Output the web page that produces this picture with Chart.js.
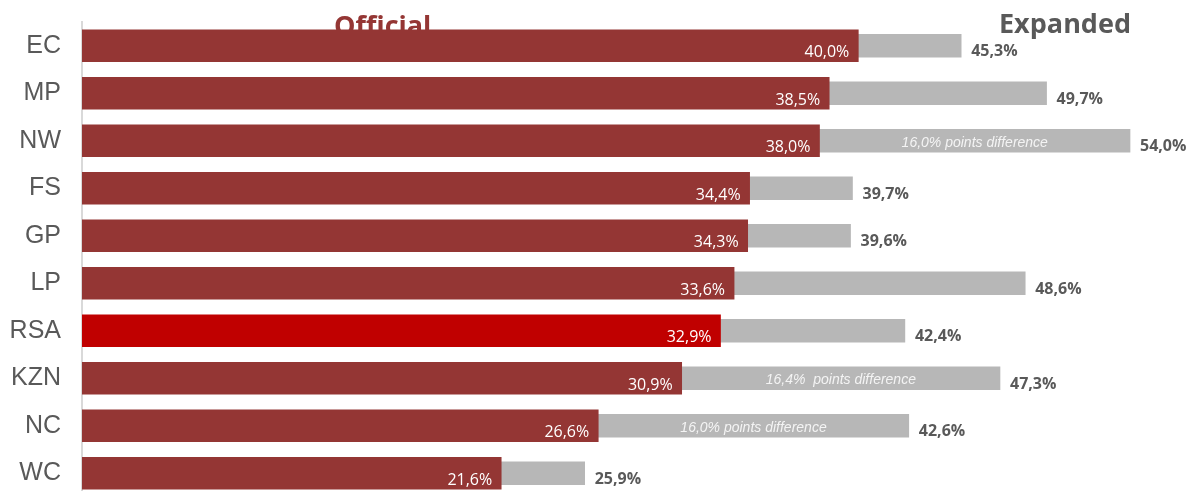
<!DOCTYPE html>
<html>
<head>
<meta charset="utf-8">
<script src="https://cdn.jsdelivr.net/npm/chart.js@4/dist/chart.umd.min.js"></script>
<style>
  html, body { margin: 0; padding: 0; background: #fff; overflow: hidden; }
  #wrap { position: absolute; left: 0; top: 0; width: 1196px; height: 497px; }
</style>
</head>
<body>
<div id="wrap"><canvas id="c"></canvas></div>
<script>
const categories = ['EC', 'MP', 'NW', 'FS', 'GP', 'LP', 'RSA', 'KZN', 'NC', 'WC'];
const officialRates = [40.0, 38.5, 38.0, 34.4, 34.3, 33.6, 32.9, 30.9, 26.6, 21.6];
const expandedRates = [45.3, 49.7, 54.0, 39.7, 39.6, 48.6, 42.4, 47.3, 42.6, 25.9];
const diffNotes = ['', '', '16,0% points difference', '', '', '', '', '16,4%  points difference', '16,0% points difference', ''];
const seriesTitles = ['Official', 'Expanded'];

const RED = '#943634';
const RSA_RED = '#C00000';
const GRAY = '#B7B7B7';
const TEXT = '#595959';

const fmt = v => v.toFixed(1).replace('.', ',') + '%';

const labelPlugin = {
  id: 'labels',
  beforeDatasetsDraw(chart) {
    const ctx = chart.ctx;
    ctx.save();
    ctx.textBaseline = 'alphabetic';
    ctx.font = 'bold 27px "Open Sans", sans-serif';
    ctx.fillStyle = RED;
    ctx.textAlign = 'left';
    ctx.fillText(seriesTitles[0], 334, 35);
    ctx.fillStyle = TEXT;
    ctx.fillText(seriesTitles[1], 999, 33);
    ctx.restore();
  },
  afterDatasetsDraw(chart) {
    const ctx = chart.ctx;
    const x = chart.scales.x;
    const y = chart.scales.y;
    ctx.save();
    categories.forEach((c, i) => {
      const yc = y.getPixelForValue(i);
      const xo = x.getPixelForValue(officialRates[i]);
      const xe = x.getPixelForValue(expandedRates[i]);
      ctx.textBaseline = 'middle';
      ctx.font = '16px "Open Sans", sans-serif';
      ctx.fillStyle = '#ffffff';
      ctx.textAlign = 'right';
      ctx.fillText(fmt(officialRates[i]), xo - 9, yc + 7);
      ctx.font = 'bold 16px "Open Sans", sans-serif';
      ctx.fillStyle = TEXT;
      ctx.textAlign = 'left';
      ctx.fillText(fmt(expandedRates[i]), xe + 10, yc + 6);
      if (diffNotes[i]) {
        ctx.font = 'italic 14px "Liberation Sans", Arial, sans-serif';
        ctx.fillStyle = '#F4F4F4';
        ctx.textAlign = 'center';
        ctx.fillText(diffNotes[i], (xo + xe) / 2, yc + 2);
      }
    });
    ctx.restore();
  }
};

new Chart(document.getElementById('c'), {
  type: 'bar',
  data: {
    labels: categories,
    datasets: [
      {
        label: seriesTitles[0],
        data: officialRates,
        backgroundColor: categories.map(c => c === 'RSA' ? RSA_RED : RED),
        barThickness: 32,
        grouped: false,
        order: 0
      },
      {
        label: seriesTitles[1],
        data: expandedRates,
        backgroundColor: GRAY,
        barThickness: 23,
        grouped: false,
        order: 1
      }
    ]
  },
  options: {
    indexAxis: 'y',
    responsive: true,
    maintainAspectRatio: false,
    animation: false,
    layout: { padding: { top: 22, right: 0, bottom: 0, left: 0 } },
    plugins: { legend: { display: false }, tooltip: { enabled: false } },
    scales: {
      x: {
        display: false,
        min: 0,
        max: 57.4
      },
      y: {
        grid: { display: false, drawTicks: false },
        border: { display: true, color: '#D9D9D9', width: 2 },
        ticks: {
          color: TEXT,
          font: { family: '"Liberation Sans", Arial, sans-serif', size: 25 },
          padding: 21
        },
        afterFit(scale) {
          scale.width = 82;
          scale.paddingTop = 0;
          scale.paddingBottom = 0;
        }
      }
    }
  },
  plugins: [labelPlugin]
});
</script>
</body>
</html>
